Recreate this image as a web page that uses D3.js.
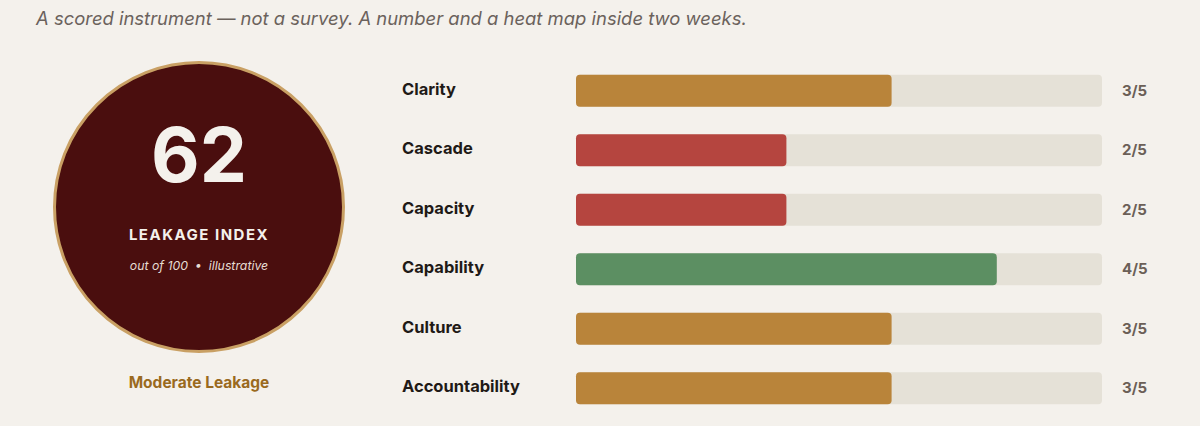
<!DOCTYPE html>
<html><head><meta charset="utf-8">
<script src="https://cdn.jsdelivr.net/npm/d3@7"></script>
<style>
html,body{margin:0;padding:0;background:#f4f1ec;}
svg{display:block;font-family:Inter,"Liberation Sans",sans-serif;}
</style></head>
<body><svg id="c" width="1200" height="426"></svg>
<script>
const categories = ["Clarity","Cascade","Capacity","Capability","Culture","Accountability"];
const scores = [3,2,2,4,3,3];
const maxScore = 5;
const indexValue = 62;
const indexLabel = "LEAKAGE INDEX";
const indexNote = "out of 100  •  illustrative";
const bandLabel = "Moderate Leakage";
const subtitle = "A scored instrument — not a survey. A number and a heat map inside two weeks.";

const colorFor = s => s <= 2 ? "#b5453f" : (s >= 4 ? "#5c8f62" : "#b9843a");

const svg = d3.select("#c");
svg.append("rect").attr("width",1200).attr("height",426).attr("fill","#f4f1ec");

svg.append("text").attr("x",36).attr("y",25).attr("font-size",18.45).attr("font-style","italic")
  .attr("fill","#6b625c").text(subtitle);

// gauge circle
const cx=199, cy=207;
svg.append("circle").attr("cx",cx).attr("cy",cy).attr("r",144.5)
  .attr("fill","#4a0e0e").attr("stroke","#c9a064").attr("stroke-width",3);
svg.append("text").attr("x",cx).attr("y",182).attr("text-anchor","middle")
  .attr("font-size",75).attr("font-weight",700).attr("fill","#f4f1ec").text(indexValue);
svg.append("text").attr("x",cx).attr("y",240).attr("text-anchor","middle")
  .attr("font-size",15).attr("font-weight",700).attr("letter-spacing",1.5).attr("fill","#f4f1ec").text(indexLabel);
svg.append("text").attr("x",cx).attr("y",270).attr("text-anchor","middle").attr("xml:space","preserve")
  .attr("font-size",12.3).attr("font-style","italic").attr("fill","#e6dcd2").text(indexNote);
svg.append("text").attr("x",cx).attr("y",388).attr("text-anchor","middle")
  .attr("font-size",15.5).attr("font-weight",700).attr("fill","#9a6a1e").text(bandLabel);

// bars
const x = d3.scaleLinear().domain([0,maxScore]).range([576,1102]);
const y = d3.scaleBand().domain(categories).range([61,418]).paddingInner(0.46).paddingOuter(0.23);
const bh = 32;
const rows = svg.append("g").selectAll("g").data(categories).join("g")
  .attr("transform", d => `translate(0,${y(d)+y.bandwidth()/2})`);
rows.append("text").attr("x",402).attr("y",4).attr("font-size",16.5).attr("font-weight",700)
  .attr("fill","#1f1a17").text(d=>d);
rows.append("rect").attr("x",x(0)).attr("y",-bh/2).attr("width",x(maxScore)-x(0)).attr("height",bh)
  .attr("rx",4).attr("fill","#e5e1d7");
rows.append("rect").attr("x",x(0)).attr("y",-bh/2).attr("width",(d,i)=>x(scores[i])-x(0)).attr("height",bh)
  .attr("rx",4).attr("fill",(d,i)=>colorFor(scores[i]));
rows.append("text").attr("x",1122).attr("y",5).attr("font-size",15).attr("font-weight",700)
  .attr("fill","#6b5f57").text((d,i)=>scores[i]+"/"+maxScore);
</script></body></html>
